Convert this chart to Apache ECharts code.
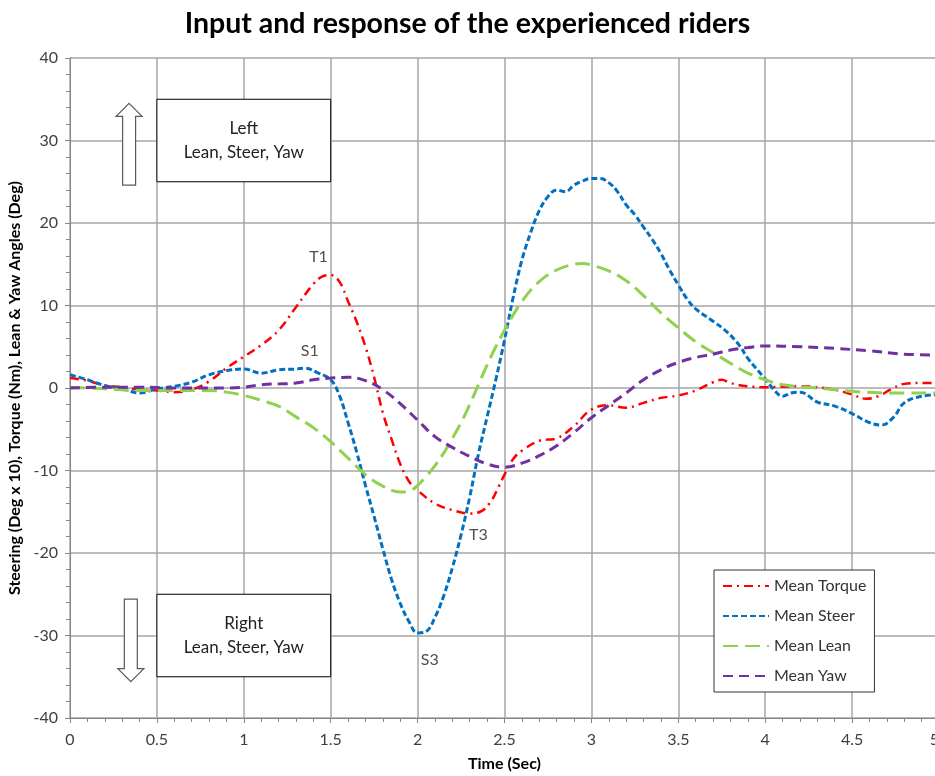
<!DOCTYPE html>
<html>
<head>
<meta charset="utf-8">
<script src="https://cdn.jsdelivr.net/npm/echarts@6/dist/echarts.min.js"></script>
<style>
  html, body { margin: 0; padding: 0; background: #fff; }
  #chart { width: 935px; height: 776px; }
</style>
</head>
<body>
<div id="chart"></div>
<script>
// [time (s), value]
const torque = [
    [0, 1.2], [0.1, 0.9], [0.2, 0.3], [0.3, 0.1], [0.4, -0.2], [0.5, -0.3], [0.6, -0.5], [0.7, -0.2],
    [0.8, 0.8], [0.9, 2.4], [1.0, 3.8], [1.1, 5.2], [1.2, 7.0], [1.3, 9.8], [1.4, 12.6], [1.45, 13.5],
    [1.5, 13.7], [1.55, 12.9], [1.6, 10.5], [1.65, 8.0], [1.7, 5.0], [1.75, 1.3], [1.8, -3.0], [1.85, -6.2],
    [1.9, -9.2], [1.95, -11.3], [2.0, -12.4], [2.1, -14.0], [2.2, -14.8], [2.3, -15.2], [2.36, -15.0],
    [2.42, -13.8], [2.47, -11.8], [2.5, -10.5], [2.55, -8.6], [2.6, -7.6], [2.7, -6.4], [2.8, -6.1],
    [2.9, -4.6], [3.0, -2.6], [3.1, -2.1], [3.2, -2.4], [3.3, -1.8], [3.4, -1.2], [3.5, -0.9], [3.6, -0.3],
    [3.7, 0.7], [3.75, 1.0], [3.8, 0.6], [3.9, 0.2], [4.0, 0.1], [4.2, 0.2], [4.4, -0.2], [4.5, -0.8],
    [4.58, -1.3], [4.65, -1.0], [4.72, -0.2], [4.8, 0.5], [4.9, 0.6], [5.0, 0.6]
];
const steer = [
    [0, 1.6], [0.1, 1.0], [0.2, 0.3], [0.3, -0.1], [0.4, -0.6], [0.5, -0.1], [0.6, 0.2], [0.7, 0.7],
    [0.8, 1.6], [0.9, 2.1], [1.0, 2.3], [1.1, 1.8], [1.2, 2.2], [1.3, 2.3], [1.35, 2.4], [1.42, 1.9],
    [1.5, 1.0], [1.55, -0.9], [1.6, -4.2], [1.65, -7.8], [1.7, -11.8], [1.75, -15.6], [1.8, -19.5],
    [1.85, -23.2], [1.9, -26.1], [1.95, -28.3], [2.0, -29.7], [2.05, -29.5], [2.1, -27.8], [2.15, -25.2],
    [2.2, -21.8], [2.25, -17.8], [2.3, -13.2], [2.35, -8.0], [2.4, -3.5], [2.45, 1.0], [2.5, 5.8],
    [2.55, 11.0], [2.6, 15.5], [2.65, 18.8], [2.7, 21.5], [2.75, 23.2], [2.8, 24.0], [2.85, 23.8],
    [2.9, 24.6], [2.95, 25.1], [3.0, 25.4], [3.05, 25.4], [3.1, 24.9], [3.15, 23.8], [3.2, 22.2],
    [3.25, 21.0], [3.3, 19.5], [3.35, 18.0], [3.4, 16.3], [3.45, 14.3], [3.5, 12.5], [3.55, 10.8],
    [3.6, 9.6], [3.7, 8.1], [3.78, 6.8], [3.85, 5.2], [3.9, 3.6], [4.0, 1.1], [4.05, -0.2], [4.1, -1.0],
    [4.15, -0.6], [4.2, -0.5], [4.3, -1.7], [4.4, -2.2], [4.5, -3.1], [4.6, -4.2], [4.67, -4.5],
    [4.74, -3.5], [4.8, -1.8], [4.9, -1.0], [5.0, -0.8]
];
const lean = [
    [0, 0.1], [0.2, -0.1], [0.4, -0.3], [0.6, -0.3], [0.8, -0.3], [0.9, -0.5], [1.0, -0.9], [1.1, -1.5],
    [1.2, -2.2], [1.3, -3.5], [1.4, -4.8], [1.5, -6.5], [1.6, -8.5], [1.7, -10.5], [1.8, -11.9],
    [1.9, -12.6], [1.95, -12.5], [2.0, -11.8], [2.05, -10.7], [2.1, -9.4], [2.15, -7.9], [2.2, -6.1],
    [2.25, -4.2], [2.3, -2.0], [2.35, 0.4], [2.4, 2.8], [2.45, 5.0], [2.5, 7.0], [2.6, 10.5], [2.7, 12.9],
    [2.8, 14.3], [2.9, 15.0], [2.95, 15.1], [3.0, 14.9], [3.1, 14.2], [3.2, 13.0], [3.3, 11.2], [3.4, 9.1],
    [3.5, 7.3], [3.6, 5.6], [3.7, 4.3], [3.8, 3.0], [3.9, 1.8], [4.0, 1.0], [4.1, 0.4], [4.3, 0.0],
    [4.5, -0.4], [4.7, -0.6], [5.0, -0.6]
];
const yaw = [
    [0, 0], [0.2, 0.1], [0.4, 0.1], [0.6, 0], [0.8, 0], [0.9, 0], [1.0, 0.1], [1.1, 0.4], [1.2, 0.5],
    [1.3, 0.6], [1.4, 1.0], [1.5, 1.2], [1.6, 1.3], [1.7, 0.9], [1.8, -0.2], [1.9, -1.9], [2.0, -3.9],
    [2.1, -5.9], [2.2, -7.2], [2.3, -8.3], [2.4, -9.2], [2.5, -9.6], [2.6, -9.1], [2.7, -8.2], [2.8, -7.0],
    [2.9, -5.4], [3.0, -3.6], [3.1, -2.1], [3.2, -0.6], [3.3, 1.0], [3.4, 2.2], [3.5, 3.1], [3.6, 3.7],
    [3.7, 4.1], [3.8, 4.6], [3.9, 4.9], [4.0, 5.1], [4.2, 5.0], [4.4, 4.8], [4.6, 4.5], [4.8, 4.1], [5.0, 4.0]
];

const seriesNames = ['Mean Torque', 'Mean Steer', 'Mean Lean', 'Mean Yaw'];
const xTicks = ['0', '0.5', '1', '1.5', '2', '2.5', '3', '3.5', '4', '4.5', '5'];

// peak labels [time, value, text]
const peakLabels = [
    [1.43, 15.9, 'T1'], [1.38, 4.5, 'S1'], [2.35, -17.8, 'T3'], [2.07, -33.0, 'S3']
];
// annotation boxes [t0, v0, t1, v1, text]
const boxes = [
    [0.5, 35, 1.5, 25, 'Left\nLean, Steer, Yaw'],
    [0.5, -25, 1.5, -35, 'Right\nLean, Steer, Yaw']
];
// block arrows [time, tipValue, tailValue]
const arrows = [
    [0.34, 34.5, 24.6],
    [0.35, -35.6, -25.6]
];

const FONT = 'Lato, "Open Sans", sans-serif';
const chart = echarts.init(document.getElementById('chart'));

function lineSeries(name, data, color, dash, width) {
    return {
        name: name,
        type: 'line',
        data: data,
        smooth: 0.4,
        showSymbol: false,
        symbol: 'none',
        lineStyle: { color: color, width: width, type: dash, cap: 'butt' },
        itemStyle: { color: color },
        z: 3
    };
}

const series = [
    lineSeries(seriesNames[0], torque, '#ff0000', [9, 5, 2, 5], 2.5),
    lineSeries(seriesNames[1], steer, '#0070c0', [6, 3], 3),
    lineSeries(seriesNames[2], lean, '#92d050', [15, 7], 3),
    lineSeries(seriesNames[3], yaw, '#7030a0', [10, 6], 3)
];

// boxes as a markArea on the first series
series[0].markArea = {
    silent: true,
    itemStyle: { color: '#fff', borderColor: '#000', borderWidth: 1 },
    label: {
        show: true, position: 'inside', color: '#222', fontFamily: FONT,
        fontSize: 17, lineHeight: 24
    },
    data: boxes.map(b => [
        { name: b[4], coord: [b[0], b[1]] },
        { coord: [b[2], b[3]] }
    ])
};

// text labels
series.push({
    type: 'scatter',
    data: peakLabels,
    symbolSize: 0,
    silent: true,
    label: {
        show: true, position: 'inside', color: '#222', fontFamily: FONT, fontSize: 16,
        formatter: p => p.data[2]
    },
    z: 5
});

// block arrows
series.push({
    type: 'custom',
    data: arrows,
    silent: true,
    z: 4,
    renderItem: function (params, api) {
        const tip = api.coord([api.value(0), api.value(1)]);
        const tail = api.coord([api.value(0), api.value(2)]);
        const dir = tail[1] > tip[1] ? 1 : -1;
        const x = tip[0], hw = 13, sw = 6.5, hh = 13 * dir;
        return {
            type: 'polygon',
            shape: {
                points: [
                    [x, tip[1]], [x + hw, tip[1] + hh], [x + sw, tip[1] + hh], [x + sw, tail[1]],
                    [x - sw, tail[1]], [x - sw, tip[1] + hh], [x - hw, tip[1] + hh]
                ]
            },
            style: { fill: '#fff', stroke: '#595959', lineWidth: 1.2 }
        };
    }
});

chart.setOption({
    animation: false,
    backgroundColor: '#fff',
    title: {
        text: 'Input and response of the experienced riders',
        left: 'center',
        top: 4,
        textStyle: { fontFamily: FONT, fontSize: 28.5, fontWeight: 'bold', color: '#000' }
    },
    legend: {
        data: seriesNames,
        orient: 'vertical',
        left: 714,
        top: 570,
        padding: [8, 8, 8, 8],
        itemWidth: 46,
        itemHeight: 16,
        itemGap: 14,
        backgroundColor: '#fff',
        borderColor: '#333',
        borderWidth: 1,
        borderRadius: 0,
        itemStyle: { opacity: 0 },
        textStyle: { fontFamily: FONT, fontSize: 16, color: '#333' }
    },
    grid: { left: 70, top: 58, width: 869, height: 660, outerBoundsMode: 'none', containLabel: false },
    xAxis: {
        type: 'value',
        min: 0, max: 5, interval: 0.5,
        name: 'Time (Sec)',
        nameLocation: 'middle',
        nameGap: 38,
        nameTextStyle: { fontFamily: FONT, fontSize: 16, fontWeight: 'bold', color: '#000' },
        axisLine: { show: true, onZero: false, lineStyle: { color: '#868686', width: 1 } },
        axisTick: { show: true, length: 5, lineStyle: { color: '#868686' } },
        minorTick: { show: true, splitNumber: 5, length: 4, lineStyle: { color: '#868686' } },
        axisLabel: {
            fontFamily: FONT, fontSize: 16, color: '#404040', margin: 14,
            showMaxLabel: true, showMinLabel: true, hideOverlap: false,
            alignMaxLabel: 'right',
            formatter: v => xTicks[Math.round(v / 0.5)]
        },
        splitLine: { show: true, lineStyle: { color: '#a6a6a6', width: 1.5 } }
    },
    yAxis: {
        type: 'value',
        min: -40, max: 40, interval: 10,
        name: 'Steering (Deg x 10), Torque (Nm), Lean & Yaw Angles (Deg)',
        nameLocation: 'middle',
        nameGap: 43,
        nameTextStyle: { fontFamily: FONT, fontSize: 16, fontWeight: 'bold', color: '#000' },
        axisLine: { show: true, onZero: false, lineStyle: { color: '#868686', width: 1 } },
        axisTick: { show: true, length: 5, lineStyle: { color: '#868686' } },
        minorTick: { show: true, splitNumber: 5, length: 4, lineStyle: { color: '#868686' } },
        axisLabel: { fontFamily: FONT, fontSize: 16, color: '#404040', margin: 12 },
        splitLine: { show: true, lineStyle: { color: '#a6a6a6', width: 1.5 } }
    },
    series: series
});
</script>
</body>
</html>
